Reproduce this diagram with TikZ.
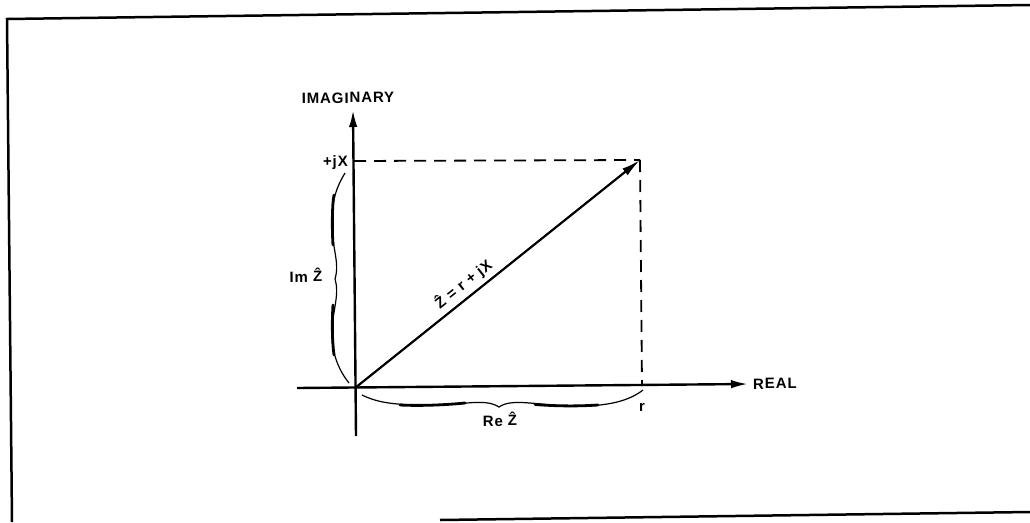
\documentclass[tikz,border=0pt]{standalone}
\usepackage{fontspec}
\newfontfamily\lab[LetterSpace=6,UprightFont=* Bold]{Liberation Sans}
\usetikzlibrary{arrows.meta}
\begin{document}
\begin{tikzpicture}[x=1pt,y=-1pt,
  axis/.style={line width=2.4pt,-{Latex[length=17pt,width=8.5pt]}},
  vec/.style={line width=2.2pt,-{Latex[length=19pt,width=8.5pt]}},
  guide/.style={line width=1.8pt,dash pattern=on 12pt off 8pt},
  framel/.style={line width=2.5pt},
  lbl/.style={font=\lab\fontsize{15}{18}\selectfont,inner sep=0pt},
  tilt/.style={rotate=0.5},
  bthin/.style={line width=1.2pt},
  bthick/.style={line width=2.8pt,line cap=round}]
\useasboundingbox (0,0) rectangle (1030,522);
% frame
\coordinate (FTL) at (7,19);
\coordinate (FTR) at (1030,5);
\coordinate (FBL) at (12,522);
\coordinate (FB1) at (440,520);
\coordinate (FB2) at (1030,512);
\draw[framel] (FBL) -- (FTL) -- (FTR);
\draw[framel] (FB1) -- (FB2);
% key points
\coordinate (O) at (355,388);
\coordinate (Ytop) at (353,110);
\coordinate (Ybot) at (356,436);
\coordinate (Xleft) at (297,388);
\coordinate (Xright) at (748,384);
\coordinate (P) at (640,160);
\coordinate (Pj) at (354,161);
\coordinate (Pr) at (642,386);
% axes
\draw[axis] (Ybot) -- (Ytop);
\draw[axis] (Xleft) -- (Xright);
% guides
\draw[guide] (Pj) -- (P);
\draw[guide] (P) -- (Pr);
% vector
\draw[vec] (O) -- node[lbl,sloped,pos=0.41,above=4pt] (vlab) {\^{Z} = r + jX} (P);
% labels
\node[lbl,tilt,anchor=base] (imag) at (348,103) {IMAGINARY};
\node[lbl,tilt,anchor=base east] (jx) at (348,166) {+jX};
\node[lbl,tilt,anchor=base] (im) at (306,282) {Im \^{Z}};
\node[lbl,tilt,anchor=base] (re) at (500,426) {Re \^{Z}};
\node[lbl,tilt,anchor=base west] (realtxt) at (753,389) {REAL};
\node[lbl,tilt,anchor=base] (rr) at (642,411) {r};
% Im brace
\draw[bthin] (345,173) .. controls (336,188) and (332,200) .. (332,222)
  .. controls (332,250) and (340,262) .. (335,279)
  .. controls (340,296) and (332,310) .. (332,335)
  .. controls (332,355) and (340,372) .. (349,383);
\draw[bthick] (334,195) .. controls (332,205) and (332,230) .. (333,245);
\draw[bthick] (333,305) .. controls (332,320) and (332,340) .. (334,355);
% Re brace
\draw[bthin] (362,395) .. controls (380,404) and (400,405) .. (430,405)
  .. controls (465,405) and (485,398) .. (499,407)
  .. controls (512,398) and (535,405) .. (570,406)
  .. controls (610,407) and (630,400) .. (643,390);
\draw[bthick] (400,405) .. controls (420,406) and (445,405) .. (465,403);
\draw[bthick] (535,404.5) .. controls (555,406) and (575,406.5) .. (598,405);
\end{tikzpicture}
\end{document}
